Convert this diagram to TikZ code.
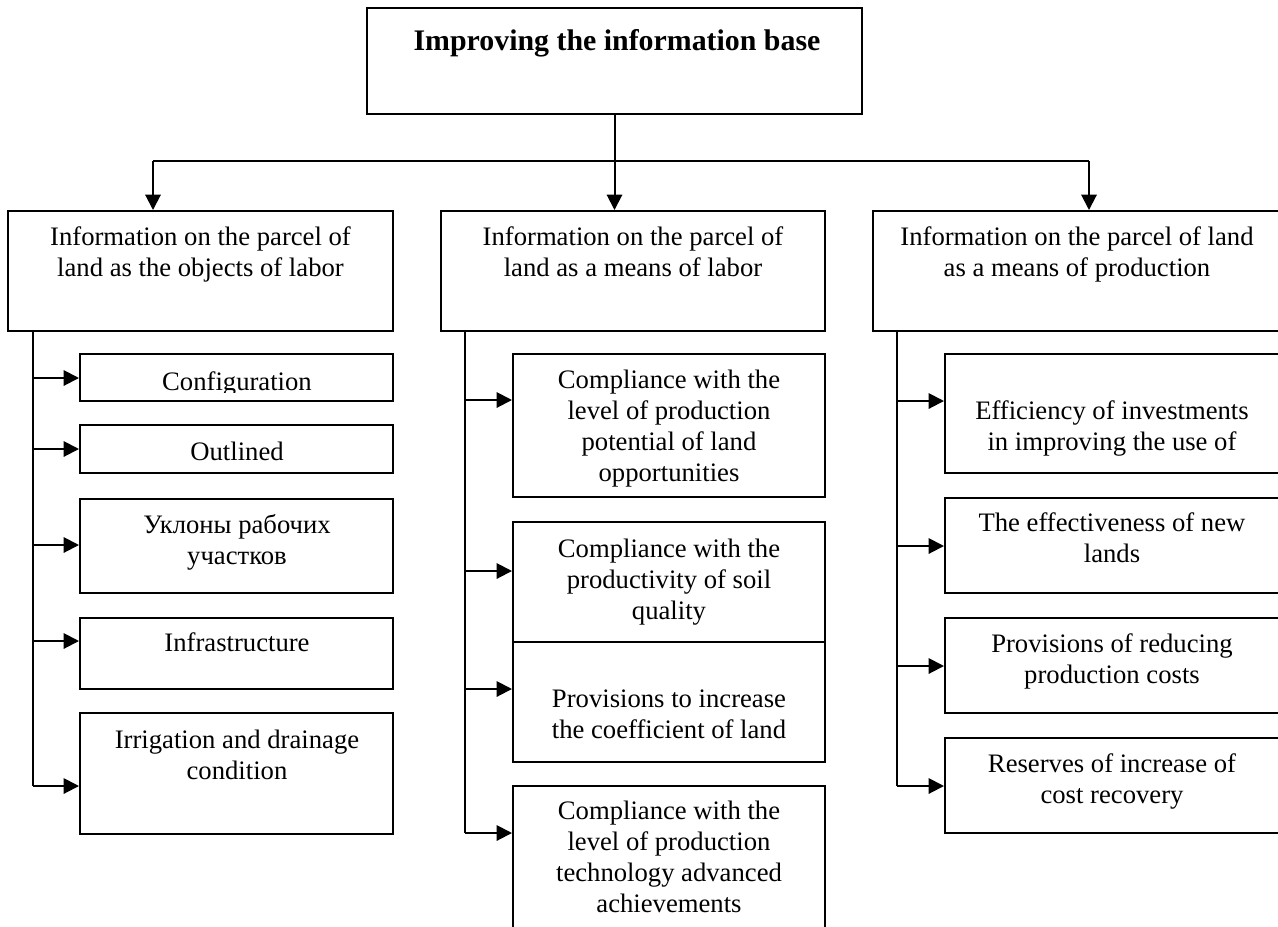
\documentclass[tikz,border=0pt]{standalone}
\usepackage{fontspec}
\setmainfont{Liberation Serif}
\usetikzlibrary{fit,arrows.meta}
\begin{document}
\begin{tikzpicture}[x=0.75pt,y=-0.75pt,
  box/.style={draw, line width=1.5pt, inner sep=0pt},
  txt/.style={align=center, font=\fontsize{20}{23.25}\selectfont, inner sep=0pt},
  ttl/.style={font=\bfseries\fontsize{22.4}{27}\selectfont, inner sep=0pt},
  conn/.style={line width=1.5pt},
  arr/.style={line width=1.5pt, -{Triangle[length=11.5pt,width=11.5pt]}}]
\useasboundingbox (0,0) rectangle (1278,926);
\clip (0,0) rectangle (1278,926);

% top
\node[box, fit={(367,8)(862,114)}] (top) {};
\node[ttl, anchor=base] (topt) at (617,50) {Improving the information base};

% heads
\node[box, fit={(8,211)(393,331)}] (lh) {};
\node[txt] (lht) at (200.5,255) {\strut Information on the parcel of\\land as the objects of labor\strut};
\node[box, fit={(441,211)(825,331)}] (mh) {};
\node[txt] (mht) at (633,255) {\strut Information on the parcel of\\land as a means of labor\strut};
\node[box, fit={(873,211)(1284,331)}] (rh) {};
\node[txt] (rht) at (1077,255) {\strut Information on the parcel of land\\as a means of production\strut};

% left children
\node[box, fit={(80,354)(393,401)}] (c1) {};
\begin{scope}
\clip (80,354) rectangle (393,392);
\node[txt, anchor=base] (c1t) at (237,390) {Configuration};
\end{scope}
\node[box, fit={(80,425)(393,473)}] (c2) {};
\node[txt, anchor=base] (c2t) at (237,460) {Outlined};
\node[box, fit={(80,499)(393,593)}] (c3) {};
\node[txt] (c3t) at (237,542.5) {\strut Уклоны рабочих\\участков\strut};
\node[box, fit={(80,618)(393,689)}] (c4) {};
\node[txt, anchor=base] (c4t) at (237,651.5) {Infrastructure};
\node[box, fit={(80,713)(393,834)}] (c5) {};
\node[txt] (c5t) at (237,757.4) {\strut Irrigation and drainage\\condition\strut};

% middle children
\node[box, fit={(513,354)(825,497)}] (m1) {};
\node[txt] (m1t) at (669,428.5) {\strut Compliance with the\\level of production\\potential of land\\opportunities\strut};
\node[box, fit={(513,522)(825,642)}] (m2) {};
\node[txt] (m2t) at (669,581.8) {\strut Compliance with the\\productivity of soil\\quality\strut};
\node[box, fit={(513,642)(825,762)}] (m3) {};
\node[txt] (m3t) at (669,716.8) {\strut Provisions to increase\\the coefficient of land\strut};
\node[box, fit={(513,786)(825,945)}] (m4) {};
\node[txt] (m4t) at (669,859.3) {\strut Compliance with the\\level of production\\technology advanced\\achievements\strut};

% right children
\node[box, fit={(945,354)(1284,473)}] (r1) {};
\node[txt] (r1t) at (1112,428.8) {\strut Efficiency of investments\\in improving the use of\strut};
\node[box, fit={(945,498)(1284,593)}] (r2) {};
\node[txt] (r2t) at (1112,541) {\strut The effectiveness of new\\lands\strut};
\node[box, fit={(945,618)(1284,713)}] (r3) {};
\node[txt] (r3t) at (1112,661.3) {\strut Provisions of reducing\\production costs\strut};
\node[box, fit={(945,738)(1284,833)}] (r4) {};
\node[txt] (r4t) at (1112,781.3) {\strut Reserves of increase of\\cost recovery\strut};

% top connectors
\coordinate (hl) at (153,161);
\coordinate (hr) at (1089,161);
\draw[conn] (hl) -- (hr);
\draw[conn] (top.south) -- (top.south |- hl);
\draw[arr] (hl) -- (hl |- lh.north);
\draw[arr] (top.south |- hl) -- (top.south |- mh.north);
\draw[arr] (hr) -- (hr |- rh.north);

% left branch
\coordinate (la1) at (33,378);
\coordinate (la2) at (33,449);
\coordinate (la3) at (33,545);
\coordinate (la4) at (33,641);
\coordinate (la5) at (33,786);
\draw[conn] (la1 |- lh.south) -- (la5);
\draw[arr] (la1) -- (la1 -| c1.west);
\draw[arr] (la2) -- (la2 -| c2.west);
\draw[arr] (la3) -- (la3 -| c3.west);
\draw[arr] (la4) -- (la4 -| c4.west);
\draw[arr] (la5) -- (la5 -| c5.west);

% middle branch
\coordinate (ma1) at (465,400);
\coordinate (ma2) at (465,571);
\coordinate (ma3) at (465,689);
\coordinate (ma4) at (465,833);
\draw[conn] (ma1 |- mh.south) -- (ma4);
\draw[arr] (ma1) -- (ma1 -| m1.west);
\draw[arr] (ma2) -- (ma2 -| m2.west);
\draw[arr] (ma3) -- (ma3 -| m3.west);
\draw[arr] (ma4) -- (ma4 -| m4.west);

% right branch
\coordinate (ra1) at (897,401);
\coordinate (ra2) at (897,546);
\coordinate (ra3) at (897,666);
\coordinate (ra4) at (897,786);
\draw[conn] (ra1 |- rh.south) -- (ra4);
\draw[arr] (ra1) -- (ra1 -| r1.west);
\draw[arr] (ra2) -- (ra2 -| r2.west);
\draw[arr] (ra3) -- (ra3 -| r3.west);
\draw[arr] (ra4) -- (ra4 -| r4.west);
\end{tikzpicture}
\end{document}
